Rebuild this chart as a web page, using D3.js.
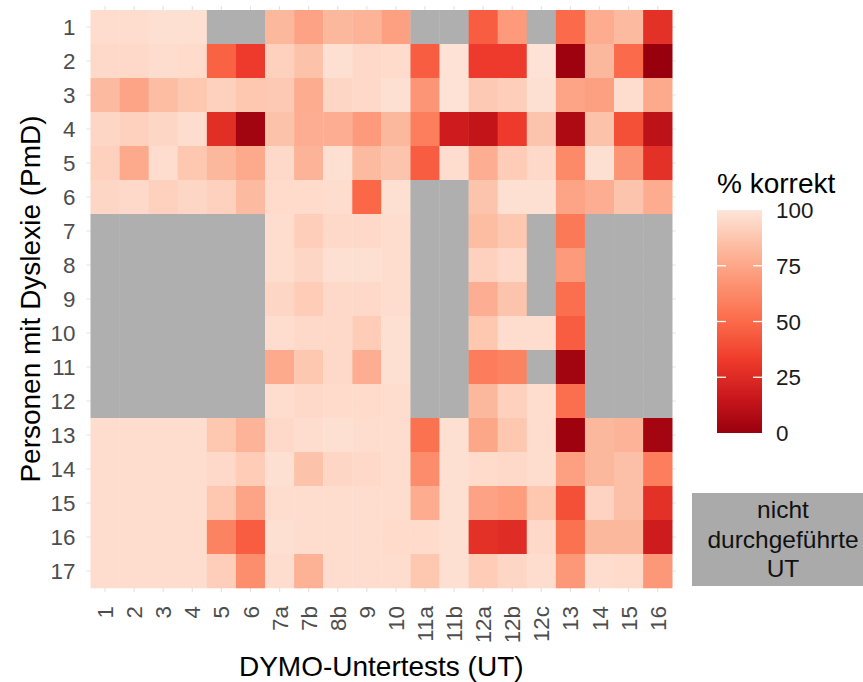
<!DOCTYPE html>
<html>
<head>
<meta charset="utf-8">
<script src="https://cdn.jsdelivr.net/npm/d3@7"></script>
<style>
  html, body { margin: 0; padding: 0; background: #ffffff; }
  svg { display: block; font-family: "Liberation Sans", Arial, sans-serif; }
</style>
</head>
<body>
<svg id="chart" width="863" height="682"></svg>
<script>
// ---- Data -------------------------------------------------------------
const tests = ["1","2","3","4","5","6","7a","7b","8b","9","10","11a","11b","12a","12b","12c","13","14","15","16"];
const persons = ["1","2","3","4","5","6","7","8","9","10","11","12","13","14","15","16","17"];
const n = null;
// % korrekt per person (rows) and subtest (columns); null = not performed
const values = [
  [97,97,98,98, n, n,82,73,82,80,72, n, n,45,70, n,50,77,83,28],
  [95,95,97,96,47,33,92,86,98,95,96,45,99,33,33,99, 2,82,50, 0],
  [83,74,84,88,92,88,89,77,94,95,98,68,99,89,91,98,74,72,97,76],
  [94,92,94,97,27, 3,86,78,78,70,82,58,18,14,33,87, 7,86,40,12],
  [92,76,97,88,82,76,95,80,98,83,87,45,97,78,90,95,63,98,68,28],
  [94,95,92,94,92,83,96,96,97,49,98, n, n,87,98,98,74,78,87,77],
  [ n, n, n, n, n, n,97,91,95,95,97, n, n,84,88, n,56, n, n, n],
  [ n, n, n, n, n, n,97,94,98,98,97, n, n,92,95, n,70, n, n, n],
  [ n, n, n, n, n, n,94,90,95,95,97, n, n,78,87, n,52, n, n, n],
  [ n, n, n, n, n, n,97,95,95,90,98, n, n,88,97,97,45, n, n, n],
  [ n, n, n, n, n, n,76,88,95,78,98, n, n,57,60, n, 3, n, n, n],
  [ n, n, n, n, n, n,97,95,96,96,97, n, n,82,92,97,52, n, n, n],
  [97,97,97,97,88,80,95,97,98,97,97,53,98,75,88,97, 2,82,80, 4],
  [97,97,97,97,95,90,98,86,94,95,97,64,98,96,95,97,72,82,85,58],
  [97,97,97,97,88,74,97,97,97,97,97,77,98,73,71,88,40,93,85,28],
  [97,97,97,97,60,45,98,97,97,97,96,96,98,28,26,95,53,82,82,18],
  [97,97,97,97,91,65,97,79,97,97,97,88,98,90,94,97,69,97,96,69]
];
const legendTicks = [0, 25, 50, 75, 100];
const paletteStops = [0, 16.67, 33.33, 50, 66.67, 83.33, 100];
const paletteColors = ["#99000D","#CB181D","#EF3B2C","#FB6A4A","#FC9272","#FCBBA1","#FEE5D9"];

// ---- Layout -----------------------------------------------------------
const svg = d3.select("#chart");
const tileLeft = 90.5, tileRight = 672.2, tileTop = 10, tileBottom = 588;
const panel = { left: 86.5, right: 676, top: 6, bottom: 592 };

const x = d3.scaleBand().domain(tests).range([tileLeft, tileRight]).padding(0);
const y = d3.scaleBand().domain(persons).range([tileTop, tileBottom]).padding(0);
const color = d3.scaleLinear().domain(paletteStops).range(paletteColors)
  .interpolate(d3.interpolateLab).clamp(true);
const naColor = "#afafaf";

const cells = [];
values.forEach((row, i) => row.forEach((v, j) => cells.push({ p: persons[i], t: tests[j], v })));

// grid lines (visible in the panel expansion)
const grid = svg.append("g");
grid.selectAll("line.v").data(tests).join("line")
  .attr("x1", d => x(d) + x.bandwidth() / 2).attr("x2", d => x(d) + x.bandwidth() / 2)
  .attr("y1", panel.top).attr("y2", panel.bottom)
  .attr("stroke", "#e4e4e4").attr("stroke-width", 1.2);
grid.selectAll("line.h").data(persons).join("line")
  .attr("y1", d => y(d) + y.bandwidth() / 2).attr("y2", d => y(d) + y.bandwidth() / 2)
  .attr("x1", panel.left).attr("x2", panel.right)
  .attr("stroke", "#e4e4e4").attr("stroke-width", 1.2);

// tiles
svg.append("g").selectAll("rect").data(cells).join("rect")
  .attr("x", d => x(d.t)).attr("y", d => y(d.p))
  .attr("width", x.bandwidth() + 0.3).attr("height", y.bandwidth() + 0.3)
  .attr("fill", d => d.v === null ? naColor : color(d.v));

// axes
const xAxis = svg.append("g").attr("transform", `translate(0,${panel.bottom})`)
  .call(d3.axisBottom(x).tickSize(0).tickPadding(0));
xAxis.select(".domain").remove();
xAxis.selectAll("text")
  .attr("transform", "translate(0,14) rotate(-90)")
  .attr("x", 0).attr("y", 0).attr("dy", "0.36em")
  .style("text-anchor", "end")
  .attr("fill", "#4d4d4d").attr("font-size", 22.4);

const yAxis = svg.append("g").attr("transform", `translate(${panel.left},0)`)
  .call(d3.axisLeft(y).tickSize(0).tickPadding(11));
yAxis.select(".domain").remove();
yAxis.selectAll("text").attr("fill", "#4d4d4d").attr("font-size", 22.4).attr("dy", "0.36em");

// axis titles
svg.append("text").attr("x", (panel.left + panel.right) / 2).attr("y", 676)
  .attr("text-anchor", "middle").attr("font-size", 28).attr("fill", "#000")
  .text("DYMO-Untertests (UT)");
svg.append("text")
  .attr("transform", `translate(40,${(panel.top + panel.bottom) / 2}) rotate(-90)`)
  .attr("text-anchor", "middle").attr("font-size", 28).attr("fill", "#000")
  .text("Personen mit Dyslexie (PmD)");

// legend
const lg = { x: 717, w: 45, top: 210, bottom: 433 };
const ly = d3.scaleLinear().domain([0, 100]).range([lg.bottom, lg.top]);
const defs = svg.append("defs");
const grad = defs.append("linearGradient").attr("id", "lgrad")
  .attr("x1", 0).attr("y1", 1).attr("x2", 0).attr("y2", 0);
d3.range(0, 101, 2).forEach(v => grad.append("stop")
  .attr("offset", v / 100).attr("stop-color", color(v)));
svg.append("text").attr("x", lg.x).attr("y", 193).attr("font-size", 28).attr("fill", "#000")
  .text("% korrekt");
svg.append("rect").attr("x", lg.x).attr("y", lg.top).attr("width", lg.w)
  .attr("height", lg.bottom - lg.top).attr("fill", "url(#lgrad)");
const lt = svg.append("g");
legendTicks.filter(t => t > 0 && t < 100).forEach(t => {
  lt.append("line").attr("x1", lg.x).attr("x2", lg.x + 9).attr("y1", ly(t)).attr("y2", ly(t))
    .attr("stroke", "#fff").attr("stroke-width", 1.3);
  lt.append("line").attr("x1", lg.x + lg.w - 9).attr("x2", lg.x + lg.w).attr("y1", ly(t)).attr("y2", ly(t))
    .attr("stroke", "#fff").attr("stroke-width", 1.3);
});
svg.append("g").selectAll("text").data(legendTicks).join("text")
  .attr("x", 776).attr("y", d => ly(d)).attr("dy", "0.36em")
  .attr("font-size", 22.4).attr("fill", "#1a1a1a").text(d => d);

// "not performed" box
svg.append("rect").attr("x", 692).attr("y", 493).attr("width", 171).attr("height", 93)
  .attr("fill", "#aaaaaa");
const boxLines = ["nicht", "durchgeführte", "UT"];
svg.append("g").selectAll("text").data(boxLines).join("text")
  .attr("x", 783).attr("y", (d, i) => 518 + i * 29.5)
  .attr("text-anchor", "middle").attr("font-size", 24.5).attr("fill", "#111")
  .text(d => d);
</script>
</body>
</html>
